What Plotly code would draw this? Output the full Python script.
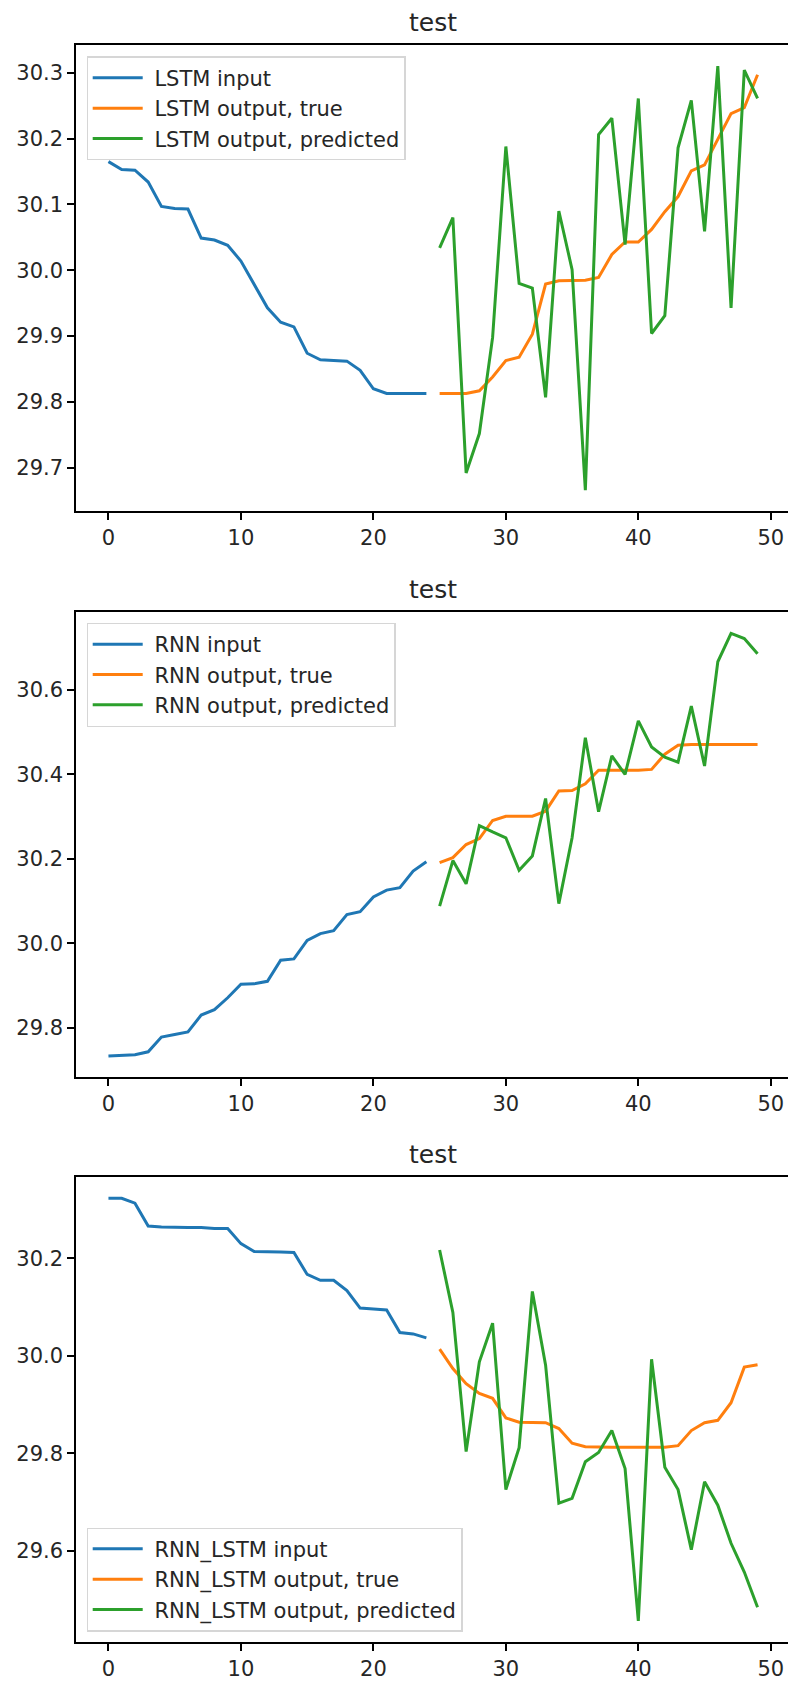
import plotly.graph_objects as go

# ---------------- data ----------------
x_input = list(range(0, 25))
x_output = list(range(25, 50))

lstm_input = [30.165, 30.153, 30.152, 30.134, 30.097, 30.094, 30.093, 30.049, 30.046, 30.038,
              30.014, 29.979, 29.943, 29.921, 29.914, 29.874, 29.864, 29.863, 29.862, 29.848,
              29.820, 29.813, 29.813, 29.813, 29.813]
lstm_true = [29.813, 29.813, 29.813, 29.817, 29.838, 29.863, 29.868, 29.903, 29.979, 29.984,
             29.984, 29.985, 29.989, 30.024, 30.043, 30.043, 30.062, 30.089, 30.112, 30.151,
             30.160, 30.200, 30.238, 30.247, 30.297]
lstm_pred = [30.034, 30.080, 29.692, 29.752, 29.898, 30.188, 29.980, 29.973, 29.807, 30.090,
             30.001, 29.666, 30.206, 30.231, 30.039, 30.261, 29.904, 29.931, 30.186, 30.258,
             30.059, 30.310, 29.943, 30.304, 30.261]

rnn_input = [29.733, 29.734, 29.736, 29.743, 29.778, 29.784, 29.790, 29.830, 29.843, 29.871,
             29.903, 29.904, 29.910, 29.960, 29.963, 30.007, 30.023, 30.030, 30.068, 30.075,
             30.110, 30.126, 30.132, 30.171, 30.193]
rnn_true = [30.191, 30.203, 30.234, 30.248, 30.291, 30.301, 30.301, 30.301, 30.313, 30.361,
            30.362, 30.378, 30.410, 30.410, 30.410, 30.410, 30.412, 30.448, 30.469, 30.471,
            30.471, 30.471, 30.471, 30.471, 30.471]
rnn_pred = [30.088, 30.196, 30.141, 30.279, 30.264, 30.250, 30.173, 30.207, 30.343, 30.094,
            30.250, 30.487, 30.312, 30.444, 30.400, 30.527, 30.465, 30.441, 30.429, 30.562,
            30.420, 30.667, 30.734, 30.722, 30.686]

rl_input = [30.323, 30.323, 30.313, 30.266, 30.264, 30.263, 30.263, 30.263, 30.261, 30.261,
            30.230, 30.214, 30.214, 30.213, 30.212, 30.167, 30.155, 30.155, 30.134, 30.098,
            30.096, 30.094, 30.048, 30.045, 30.037]
rl_true = [30.014, 29.974, 29.943, 29.923, 29.913, 29.873, 29.864, 29.864, 29.863, 29.851,
           29.821, 29.814, 29.813, 29.813, 29.813, 29.813, 29.813, 29.813, 29.816, 29.847,
           29.863, 29.868, 29.904, 29.977, 29.982]
rl_pred = [30.217, 30.089, 29.804, 29.988, 30.067, 29.726, 29.812, 30.132, 29.981, 29.698,
           29.708, 29.783, 29.802, 29.847, 29.769, 29.457, 29.993, 29.772, 29.726, 29.603,
           29.742, 29.694, 29.616, 29.557, 29.485]

model_names = ["LSTM", "RNN", "RNN_LSTM"]
series = [(lstm_input, lstm_true, lstm_pred),
          (rnn_input, rnn_true, rnn_pred),
          (rl_input, rl_true, rl_pred)]
x_ticks = [0, 10, 20, 30, 40, 50]
y_ticks = [[29.7, 29.8, 29.9, 30.0, 30.1, 30.2, 30.3],
           [29.8, 30.0, 30.2, 30.4, 30.6],
           [29.6, 29.8, 30.0, 30.2]]
title_text = "test"

# ---------------- layout constants (pixels) ----------------
W, H = 788, 1682
L, R_EDGE = 76, 790          # axes left; matplotlib right spine lies just off-canvas
TOP, BOTTOM = 44.5, 1642
axes_px = [(44.5, 511), (612, 1077), (1177, 1642)]
FONT = "DejaVu Sans"
colors = ["#1f77b4", "#ff7f0e", "#2ca02c"]
LW = 3

plot_h = BOTTOM - TOP
def py(p):
    return 1 - (p - TOP) / plot_h

def px(p):
    return (p - L) / (W - L)

# matplotlib-like x range, truncated at the canvas edge
x0m, x1m = -2.45, 51.45
x_end = x0m + (x1m - x0m) * (W - L) / (R_EDGE - L)

fig = go.Figure()
legend_pos = [("top", 56), ("top", 622.5), ("bottom", 1631.5)]

for i, (name, (s_in, s_true, s_pred)) in enumerate(zip(model_names, series)):
    n = "" if i == 0 else str(i + 1)
    xa, ya = "x" + n, "y" + n
    lg = "legend" + n
    labels = [f"{name} input", f"{name} output, true", f"{name} output, predicted"]
    for xs, ys, lab, c in [(x_input, s_in, labels[0], colors[0]),
                            (x_output, s_true, labels[1], colors[1]),
                            (x_output, s_pred, labels[2], colors[2])]:
        fig.add_trace(go.Scatter(x=xs, y=ys, mode="lines", name="\u00a0" + lab,
                                 line=dict(color=c, width=LW),
                                 xaxis=xa, yaxis=ya, legend=lg))
    allv = s_in + s_true + s_pred
    lo, hi = min(allv), max(allv)
    pad = 0.05 * (hi - lo)
    top_px, bot_px = axes_px[i]
    dom = [py(bot_px), py(top_px)]
    axis_common = dict(showgrid=False, zeroline=False, showline=True, linecolor="#000000",
                       linewidth=1.5, ticks="outside", ticklen=7, tickwidth=1.5,
                       tickcolor="#000000",
                       tickfont=dict(family=FONT, size=21, color="#262626"))
    fig.layout["xaxis" + n] = dict(axis_common, domain=[0, 1], anchor=ya,
                                   range=[x0m, x_end], tickvals=x_ticks, mirror=True)
    fig.layout["yaxis" + n] = dict(axis_common, domain=dom, anchor=xa,
                                   range=[lo - pad, hi + pad], tickvals=y_ticks[i],
                                   tickformat=".1f")
    anchor, ypix = legend_pos[i]
    fig.layout[lg] = dict(x=px(86.5), y=py(ypix), xanchor="left", yanchor=anchor,
                          bgcolor="rgba(255,255,255,0.8)", bordercolor="#d6d6d6",
                          borderwidth=1.2, font=dict(family=FONT, size=21, color="#262626"),
                          itemwidth=50, traceorder="normal")
    fig.add_annotation(text=title_text, xref="paper", yref="paper",
                       x=px((L + R_EDGE) / 2), y=py(top_px), xanchor="center",
                       yanchor="bottom", yshift=6, showarrow=False,
                       font=dict(family=FONT, size=25, color="#262626"))

fig.update_layout(width=W, height=H, margin=dict(l=L, r=0, t=TOP, b=H - BOTTOM),
                  paper_bgcolor="white", plot_bgcolor="white", showlegend=True,
                  font=dict(family=FONT))

fig.write_html("out.html")
